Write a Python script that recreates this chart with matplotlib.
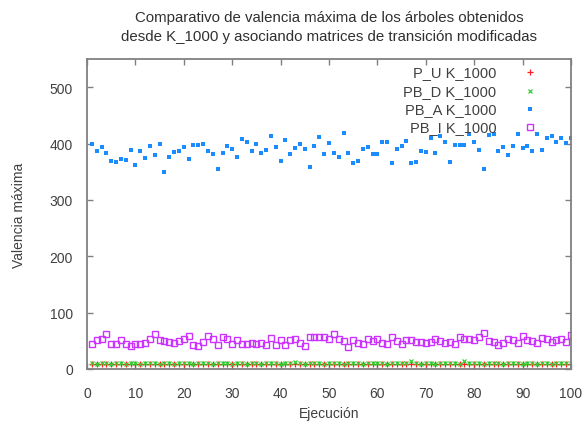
import matplotlib
matplotlib.use("Agg")
import matplotlib.pyplot as plt

plt.rcParams['font.family'] = ['Liberation Sans', 'DejaVu Sans']

# ejecuciones 1..100
ejecucion = list(range(1, 101))

p_u = [8, 9, 8, 9, 8, 8, 9, 8, 9, 8,
       9, 8, 8, 9, 8, 9, 8, 8, 9, 8,
       8, 9, 8, 9, 8, 8, 9, 8, 9, 8,
       9, 8, 8, 9, 8, 9, 8, 8, 9, 8,
       8, 9, 8, 9, 8, 8, 9, 8, 9, 8,
       9, 8, 8, 9, 8, 9, 8, 8, 9, 8,
       8, 9, 8, 9, 8, 8, 9, 8, 9, 8,
       9, 8, 8, 9, 8, 9, 8, 8, 9, 8,
       8, 9, 8, 9, 8, 8, 9, 8, 9, 8,
       9, 8, 8, 9, 8, 9, 8, 8, 9, 8]

pb_d = [10, 9, 11, 10, 9, 10, 11, 9, 10, 10,
        9, 11, 10, 10, 9, 11, 10, 9, 10, 11,
        10, 9, 10, 11, 10, 9, 10, 10, 11, 9,
        10, 11, 9, 10, 10, 9, 11, 10, 10, 9,
        11, 10, 13, 10, 9, 10, 11, 10, 9, 10,
        11, 10, 9, 10, 10, 11, 9, 10, 10, 11,
        10, 9, 10, 11, 10, 10, 14, 10, 9, 11,
        10, 9, 10, 11, 10, 10, 9, 15, 10, 11,
        10, 9, 10, 11, 10, 9, 10, 10, 11, 9,
        10, 11, 9, 10, 10, 9, 11, 10, 10, 11]

pb_a = [399, 386, 394, 384, 369, 367, 372, 371, 389, 362,
        386, 374, 396, 379, 399, 349, 376, 385, 386, 394,
        372, 398, 398, 399, 387, 381, 355, 384, 395, 391,
        377, 408, 403, 386, 399, 384, 388, 413, 393, 369,
        406, 381, 392, 399, 391, 359, 396, 412, 381, 401,
        384, 377, 418, 383, 366, 369, 390, 393, 382, 382,
        402, 403, 365, 391, 395, 404, 366, 367, 386, 385,
        409, 384, 413, 402, 367, 397, 397, 397, 417, 402,
        389, 355, 416, 417, 387, 393, 379, 396, 417, 392,
        396, 386, 417, 389, 410, 413, 403, 410, 401, 409]

pb_i = [44, 52, 54, 62, 45, 44, 52, 44, 40, 44,
        44, 46, 53, 62, 51, 49, 48, 46, 49, 54,
        59, 42, 40, 48, 59, 53, 42, 56, 53, 44,
        51, 44, 44, 46, 44, 46, 42, 55, 43, 51,
        43, 51, 53, 46, 40, 56, 56, 56, 56, 53,
        62, 53, 49, 39, 51, 46, 44, 53, 49, 54,
        46, 44, 56, 49, 44, 51, 52, 48, 48, 46,
        48, 53, 49, 46, 48, 44, 56, 53, 53, 52,
        56, 64, 49, 48, 42, 46, 53, 51, 46, 58,
        51, 49, 46, 55, 53, 48, 51, 53, 48, 60]

series = [
    ("P_U K_1000", p_u, dict(marker='+', color='#ff2020', ms=4, mew=0.9)),
    ("PB_D K_1000", pb_d, dict(marker='x', color='#30d030', ms=3.5, mew=0.9)),
    ("PB_A K_1000", pb_a, dict(marker='s', color='#1a8cff', ms=3.4, mew=0)),
    ("PB_I K_1000", pb_i, dict(marker='s', color='#cc33ff', mfc='none', ms=5, mew=1)),
]

fig = plt.figure(figsize=(5.87, 4.27), dpi=100)
ax = fig.add_axes([0.1482, 0.1335, 0.8245, 0.726])

for name, vals, st in series:
    ax.plot(ejecucion, vals, linestyle='none', **st)

# leyenda al estilo gnuplot: texto alineado a la derecha, muestra a su derecha
for k, (name, vals, st) in enumerate(series):
    yy = 0.957 - k * 0.059
    ax.text(0.846, yy, name, transform=ax.transAxes, ha='right', va='center',
            fontsize=10.5, color='#404040')
    ax.plot([0.915], [yy], transform=ax.transAxes, clip_on=False,
            linestyle='none', **st)

ax.set_xlim(0, 100)
ax.set_ylim(0, 550)
ax.set_xticks(range(0, 101, 10))
ax.set_yticks(range(0, 501, 100))
ax.tick_params(direction='in', top=True, right=True, length=4, width=1,
               color='#808080', labelcolor='#404040', labelsize=10)
ax.tick_params(axis='x', pad=12)
ax.tick_params(axis='y', pad=10)
for sp in ax.spines.values():
    sp.set_color('#808080')
    sp.set_linewidth(1.3)

ax.set_xlabel('Ejecución', fontsize=10, color='#404040')
ax.set_ylabel('Valencia máxima', fontsize=10, color='#404040')
ax.xaxis.set_label_coords(0.5, -0.118)
ax.yaxis.set_label_coords(-0.125, 0.5)

fig.text(0.5605, 1 - 27.5 / 427,
         'Comparativo de valencia máxima de los árboles obtenidos\n'
         'desde K_1000 y asociando matrices de transición modificadas',
         ha='center', va='center', fontsize=10.8, color='#303030', linespacing=1.4)

fig.savefig('out.png', dpi=100)
